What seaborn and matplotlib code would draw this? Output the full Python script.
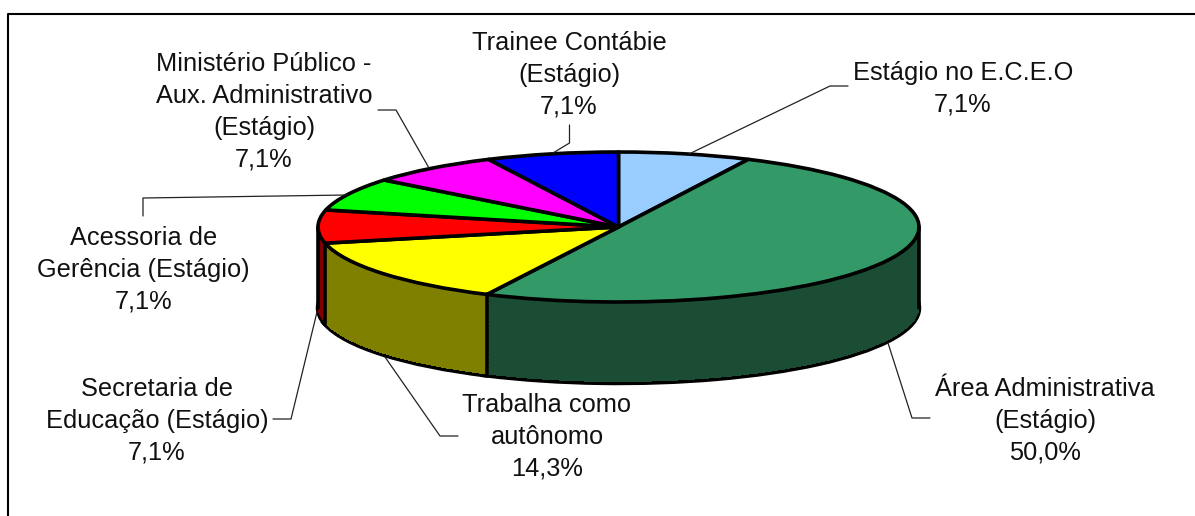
import numpy as np
import matplotlib
matplotlib.use("Agg")
import matplotlib.pyplot as plt
import seaborn as sns

categories = ["Estágio no E.C.E.O", "Área Administrativa\n(Estágio)", "Trabalha como\nautônomo",
              "Secretaria de\nEducação (Estágio)", "Acessoria de\nGerência (Estágio)",
              "Ministério Público -\nAux. Administrativo\n(Estágio)", "Trainee Contábie\n(Estágio)"]
values = [7.1, 50.0, 14.3, 7.1, 7.1, 7.1, 7.1]
top_colors = ["#99CCFF", "#339966", "#FFFF00", "#FF0000", "#00FF00", "#FF00FF", "#0000FF"]

# layout in image pixels
W, H = 1195, 516
CX, CY, RX, RY, DEPTH = 618.5, 227.0, 300.5, 75.0, 81.0
label_xy = [(963, 89), (1045, 421), (547, 437), (157, 421), (143.5, 270), (264, 112), (569, 75)]
leaders = [[(848, 86), (830, 86), (689, 154)],
           [(930, 418), (912, 418), (888, 343)],
           [(458, 436), (440, 436), (385, 357)],
           [(273, 419), (291, 419), (317, 312)],
           [(143, 216), (143, 198), (347, 195)],
           [(378, 110), (396, 110), (429, 168)],
           [(569.5, 125), (569.5, 143), (553, 153)]]

sns.set_theme(style="white")
plt.rcParams["font.family"] = ["Liberation Sans", "DejaVu Sans"]
palette = sns.color_palette(top_colors)
side_colors = [tuple(np.array(c) * 0.5) for c in palette]

fig = plt.figure(figsize=(W / 100, H / 100), dpi=100, facecolor="white")
ax = fig.add_axes([0, 0, 1, 1])

def to_data(x, y):
    return (x - CX) / RX, (CY - y) / RY

d = DEPTH / RY
# bottom rim with outline, then stacked layers forming the side wall
ax.pie(values, colors=side_colors, startangle=90, counterclock=False, center=(0, -d),
       wedgeprops=dict(edgecolor="black", linewidth=3.2))
for dz in np.linspace(d - 0.02, 0.02, 60):
    ax.pie(values, colors=side_colors, startangle=90, counterclock=False, center=(0, -dz),
           wedgeprops=dict(edgecolor="none", linewidth=0, antialiased=False))

# vertical edges at the visible slice boundaries and the silhouette
bounds = np.deg2rad(np.cumsum(values) / np.sum(values) * 360)
for a in list(bounds) + [np.pi / 2, 3 * np.pi / 2]:
    if np.cos(a) <= 0.001:
        ax.plot([np.sin(a)] * 2, [np.cos(a), np.cos(a) - d], color="black", lw=2.6, solid_capstyle="round")

# top face
ax.pie(values, colors=palette, startangle=90, counterclock=False,
       wedgeprops=dict(edgecolor="black", linewidth=2.6, joinstyle="round"))

ax.set_aspect("auto")
ax.set_xlim(to_data(0, 0)[0], to_data(W, 0)[0])
ax.set_ylim(to_data(0, H)[1], to_data(0, 0)[1])
ax.axis("off")

# leader lines and labels
for pts in leaders:
    xs, ys = zip(*[to_data(*p) for p in pts])
    ax.plot(xs, ys, color="#222222", lw=0.9)
for cat, v, (x, y) in zip(categories, values, label_xy):
    s = cat + "\n" + f"{v:.1f}%".replace(".", ",")
    dx, dy = to_data(x, y)
    ax.text(dx, dy, s, ha="center", va="center", ma="center", fontsize=18.3,
            color="#111111", linespacing=1.41)

# chart frame (left and top only reach the picture)
fx, fy = zip(*[to_data(*p) for p in [(8.5, H), (8.5, 13.5), (W, 13.5)]])
ax.plot(fx, fy, color="black", lw=1.5, clip_on=False)

fig.savefig("out.png", dpi=100)
